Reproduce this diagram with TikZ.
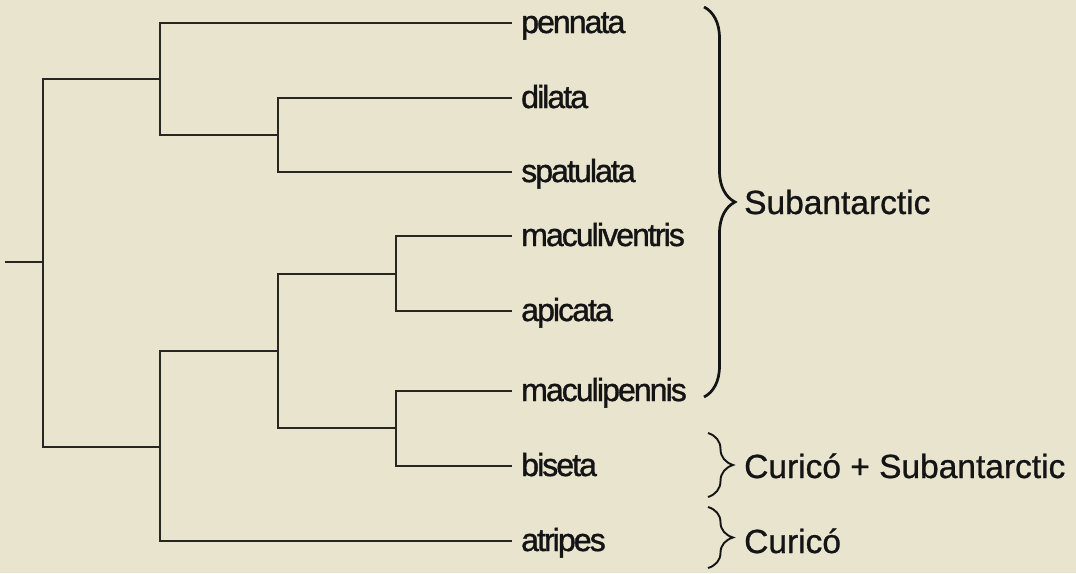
\documentclass[tikz,border=0pt]{standalone}
\usepackage{fontspec}
\setmainfont[FakeBold=0.8]{Liberation Sans}
\newfontfamily\taxonfont[LetterSpace=-6,FakeBold=1.2]{Liberation Sans}
\usetikzlibrary{decorations.pathreplacing}
\definecolor{paper}{RGB}{232,228,205}
\definecolor{ink}{RGB}{40,38,32}

\begin{document}
\begin{tikzpicture}[x=1pt,y=-1pt,
    branch/.style={draw=ink, line width=1.3pt},
    taxon/.style={anchor=base west, inner sep=0pt, text=black!92,
      font=\taxonfont\fontsize{32}{36}\selectfont},
    region/.style={anchor=base west, inner sep=0pt, text=black!92,
      font=\fontsize{33.5}{38}\selectfont},
    groupbrace/.style={draw=black!92, line width=2.7pt, decorate,
      decoration={brace, amplitude=#1}}]
    \fill[paper] (0,0) rectangle (1076,573);
    \useasboundingbox (0,0) rectangle (1076,573);
    % tips
    \coordinate (pennataT) at (512,23);
    \coordinate (dilataT) at (512,98);
    \coordinate (spatulataT) at (512,172);
    \coordinate (maculiventrisT) at (512,236);
    \coordinate (apicataT) at (512,311);
    \coordinate (maculipennisT) at (512,391);
    \coordinate (bisetaT) at (512,466);
    \coordinate (atripesT) at (512,541);
    \node[taxon] (pennata) at (521,33) {pennata};
    \node[taxon] (dilata) at (521,108) {dilata};
    \node[taxon] (spatulata) at (521,182) {spatulata};
    \node[taxon] (maculiventris) at (521,246) {maculiventris};
    \node[taxon] (apicata) at (521,321) {apicata};
    \node[taxon] (maculipennis) at (521,401) {maculipennis};
    \node[taxon] (biseta) at (521,476) {biseta};
    \node[taxon] (atripes) at (521,551) {atripes};
    % internal nodes
    \coordinate (stem) at (5,262);
    \coordinate (root) at (43,262);
    \coordinate (nA) at (160,79);
    \coordinate (nB) at (278,135);
    \coordinate (nC) at (160,447);
    \coordinate (nD) at (278,351);
    \coordinate (nE) at (396,274);
    \coordinate (nF) at (396,428);
    \draw[branch] (stem) -- (root);
    \draw[branch] (root) |- (nA);
    \draw[branch] (root) |- (nC);
    \draw[branch] (nA) |- (pennataT);
    \draw[branch] (nA) |- (nB);
    \draw[branch] (nB) |- (dilataT);
    \draw[branch] (nB) |- (spatulataT);
    \draw[branch] (nC) |- (nD);
    \draw[branch] (nC) |- (atripesT);
    \draw[branch] (nD) |- (nE);
    \draw[branch] (nD) |- (nF);
    \draw[branch] (nE) |- (maculiventrisT);
    \draw[branch] (nE) |- (apicataT);
    \draw[branch] (nF) |- (maculipennisT);
    \draw[branch] (nF) |- (bisetaT);
    % distribution
    \coordinate (subTop) at (704,7);
    \coordinate (subBot) at (704,397);
    \coordinate (bothTop) at (708,433);
    \coordinate (bothBot) at (708,497);
    \coordinate (curTop) at (708,507);
    \coordinate (curBot) at (708,568);
    \draw[groupbrace=31pt] (subTop) -- (subBot);
    \draw[groupbrace=25pt, line width=1.9pt] (bothTop) -- (bothBot);
    \draw[groupbrace=25pt, line width=1.9pt] (curTop) -- (curBot);
    \node[region] (subantarctic) at (744,214) {Subantarctic};
    \node[region] (both) at (744,478) {Curicó + Subantarctic};
    \node[region] (curico) at (744,553) {Curicó};
\end{tikzpicture}
\end{document}
